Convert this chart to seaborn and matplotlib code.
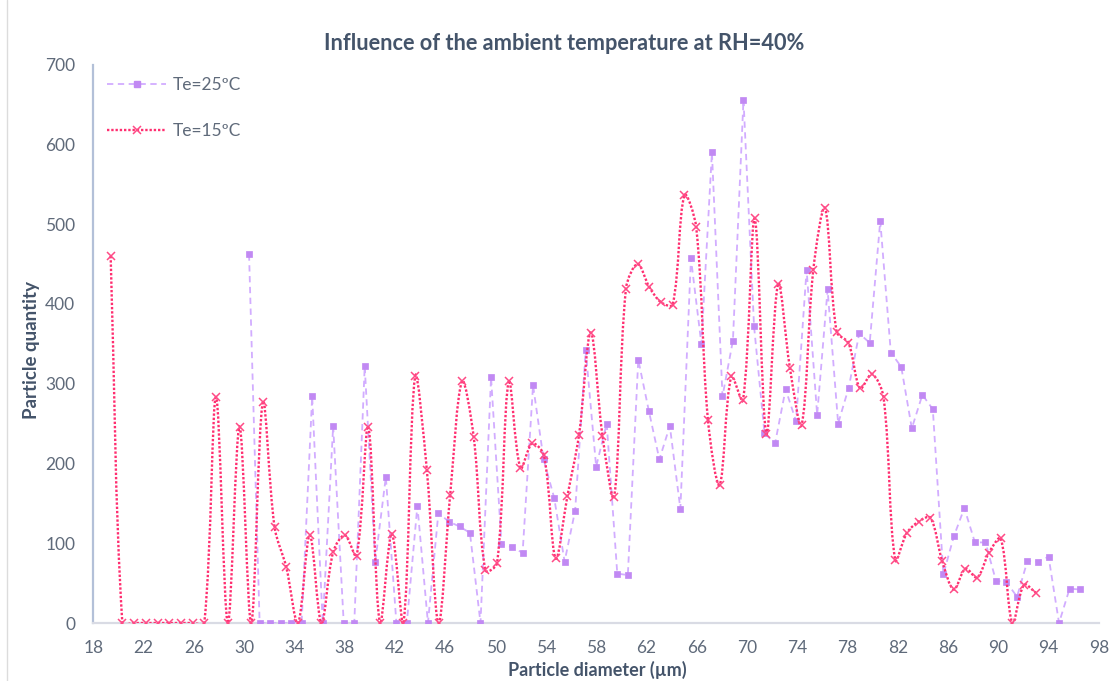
import numpy as np
import matplotlib
matplotlib.use("Agg")
import matplotlib.pyplot as plt
from matplotlib.path import Path
from matplotlib.patches import PathPatch
from matplotlib.lines import Line2D
import seaborn as sns
import pandas as pd

# ---------------- data ----------------
diam_25 = [30.39, 31.23, 32.06, 32.90, 33.74, 34.57, 35.41, 36.25, 37.08, 37.92,
           38.76, 39.59, 40.43, 41.27, 42.11, 42.94, 43.78, 44.62, 45.45, 46.29,
           47.13, 47.96, 48.80, 49.64, 50.47, 51.31, 52.15, 52.98, 53.82, 54.66,
           55.49, 56.33, 57.17, 58.00, 58.84, 59.68, 60.52, 61.35, 62.19, 63.03,
           63.86, 64.70, 65.54, 66.37, 67.21, 68.05, 68.88, 69.72, 70.56, 71.39,
           72.23, 73.07, 73.90, 74.74, 75.58, 76.41, 77.25, 78.09, 78.93, 79.76,
           80.60, 81.44, 82.27, 83.11, 83.95, 84.78, 85.62, 86.46, 87.29, 88.13,
           88.97, 89.80, 90.64, 91.48, 92.31, 93.15, 93.99, 94.82, 95.66, 96.50]
qty_25 = [462, 0, 0, 0, 0, 0, 284, 0, 247, 0,
          0, 322, 77, 183, 0, 0, 147, 0, 138, 127,
          121, 113, 0, 308, 99, 95, 88, 298, 205, 157,
          77, 141, 342, 196, 250, 62, 60, 330, 266, 205,
          247, 143, 457, 350, 590, 284, 354, 656, 372, 238,
          225, 293, 253, 443, 261, 418, 250, 295, 363, 351,
          504, 339, 321, 244, 286, 268, 61, 109, 144, 101,
          101, 53, 51, 33, 78, 77, 83, 0, 43, 42]

diam_15 = [19.38, 20.31, 21.24, 22.17, 23.11, 24.04, 24.97, 25.90, 26.83, 27.76,
           28.70, 29.63, 30.56, 31.49, 32.42, 33.35, 34.28, 35.22, 36.15, 37.08,
           38.01, 38.94, 39.87, 40.80, 41.74, 42.67, 43.60, 44.53, 45.46, 46.39,
           47.33, 48.26, 49.19, 50.12, 51.05, 51.98, 52.91, 53.85, 54.78, 55.71,
           56.64, 57.57, 58.50, 59.43, 60.37, 61.30, 62.23, 63.16, 64.09, 65.02,
           65.96, 66.89, 67.82, 68.75, 69.68, 70.61, 71.54, 72.48, 73.41, 74.34,
           75.27, 76.20, 77.13, 78.07, 79.00, 79.93, 80.86, 81.79, 82.72, 83.65,
           84.59, 85.52, 86.45, 87.38, 88.31, 89.24, 90.18, 91.11, 92.04, 92.97]
qty_15 = [460, 0, 0, 0, 0, 0, 0, 0, 0, 283,
          0, 246, 0, 277, 120, 70, 0, 110, 0, 89,
          110, 84, 246, 0, 112, 0, 309, 192, 0, 161,
          303, 233, 66, 75, 303, 194, 225, 210, 81, 159,
          236, 364, 235, 158, 419, 450, 421, 402, 399, 536,
          496, 255, 173, 309, 279, 507, 237, 425, 320, 248,
          442, 520, 365, 351, 294, 312, 283, 79, 113, 127,
          132, 78, 42, 68, 57, 88, 106, 0, 48, 38]

series_labels = ["Te=25ºC", "Te=15ºC"]
x_ticks = [18, 22, 26, 30, 34, 38, 42, 46, 50, 54, 58, 62, 66, 70, 74, 78, 82, 86, 90, 94, 98]
y_ticks = [0, 100, 200, 300, 400, 500, 600, 700]
title = "Influence of the ambient temperature at RH=40%"
x_label = "Particle diameter (µm)"
y_label = "Particle quantity"

# ---------------- styling ----------------
sns.set_theme(style="white")
plt.rcParams['font.family'] = ['Lato', 'DejaVu Sans']

C25_LINE = "#d2adff"
C25_MARK = "#c189f3"
C15_LINE = "#ff2e70"
C15_MARK = "#ff4a86"
TXT = "#5f6a7a"
TITLE_C = "#44546a"

W, H = 1113, 681
fig = plt.figure(figsize=(W / 100, H / 100), dpi=100)
ax = fig.add_axes([93.3 / W, 1 - 623 / H, (1099 - 93.3) / W, (623 - 64.5) / H])
ax.set_xlim(18, 98)
ax.set_ylim(0, 700)

df25 = pd.DataFrame({"d": diam_25, "q": qty_25})
df15 = pd.DataFrame({"d": diam_15, "q": qty_15})

# Te=25 : dashed straight line with square markers
sns.lineplot(data=df25, x="d", y="q", ax=ax, color=C25_LINE, lw=1.3,
             marker="s", markersize=4.9, markerfacecolor=C25_MARK,
             markeredgecolor=C25_MARK, markeredgewidth=0.5, zorder=3, legend=False)
ax.lines[-1].set_dashes([3.5, 2.5])

# Te=15 : smoothed dotted line (length-weighted Bezier, computed in screen space)
pts = np.column_stack([diam_15, qty_15]).astype(float)
scr = ax.transData.transform(pts)
S = np.vstack([scr[0], scr, scr[-1]])
verts_s = [scr[0]]
codes = [Path.MOVETO]
for i in range(len(scr) - 1):
    p0, p1, p2, p3 = S[i], S[i + 1], S[i + 2], S[i + 3]
    d01 = np.linalg.norm(p1 - p0)
    d12 = np.linalg.norm(p2 - p1)
    d23 = np.linalg.norm(p3 - p2)
    c1 = p1 + (p2 - p0) * (d12 / (d01 + d12 + 1e-9)) / 3.0 if d01 > 0 else p1 + (p2 - p1) / 3.0
    c2 = p2 - (p3 - p1) * (d12 / (d12 + d23 + 1e-9)) / 3.0 if d23 > 0 else p2 - (p2 - p1) / 3.0
    verts_s += [c1, c2, p2]
    codes += [Path.CURVE4] * 3
verts = ax.transData.inverted().transform(np.array(verts_s))
ax.add_patch(PathPatch(Path(verts, codes), fill=False, edgecolor=C15_LINE,
                       lw=1.7, linestyle=(0, (1.0, 0.8)), zorder=4))
sns.lineplot(data=df15, x="d", y="q", ax=ax, color=C15_MARK, linestyle="",
             marker="x", markersize=6.4, markeredgewidth=1.1,
             markeredgecolor=C15_MARK, zorder=5, legend=False)

ax.set_xticks(x_ticks)
ax.set_yticks(y_ticks)
ax.set_xlabel("")
ax.set_ylabel("")
ax.tick_params(length=0, labelsize=12.5, colors=TXT)
ax.tick_params(axis="x", pad=12)
ax.tick_params(axis="y", pad=13)
for s in ["top", "right"]:
    ax.spines[s].set_visible(False)
ax.spines["left"].set_color("#b3c0d8")
ax.spines["left"].set_linewidth(1.6)
ax.spines["bottom"].set_color("#d9dbe4")
ax.spines["bottom"].set_linewidth(1.6)
ax.grid(False)

# legend
h25 = Line2D([], [], color=C25_LINE, lw=1.3, dashes=[3.5, 2.5], marker="s",
             markersize=4.9, markerfacecolor=C25_MARK, markeredgecolor=C25_MARK)
h15 = Line2D([], [], color=C15_LINE, lw=1.7, linestyle=(0, (1.0, 0.8)), marker="x",
             markersize=6.4, markeredgewidth=1.1, markeredgecolor=C15_MARK)
ax.legend([h25, h15], series_labels, loc="upper left",
          bbox_to_anchor=(107 / W, 1 - 77 / H), bbox_transform=fig.transFigure,
          frameon=False, borderpad=0, borderaxespad=0, handlelength=3.4,
          handletextpad=0.4, labelspacing=1.75, fontsize=12.5, labelcolor=TXT,
          numpoints=1)

# texts
fig.text(564 / W, 1 - 44 / H, title, ha="center", va="center", fontsize=15.7,
         fontweight="bold", color=TITLE_C)
fig.text(597 / W, 1 - 670 / H, x_label, ha="center", va="center", fontsize=13,
         fontweight="bold", color=TITLE_C)
fig.text(31 / W, 1 - 350 / H, y_label, ha="center", va="center", rotation=90,
         fontsize=13.5, fontweight="bold", color=TITLE_C)

# faint chart-area border on the left
fig.add_artist(Line2D([7 / W, 7 / W], [0, 1], transform=fig.transFigure,
                      color="#dcdcdc", lw=1))

fig.savefig("out.png", dpi=100)
